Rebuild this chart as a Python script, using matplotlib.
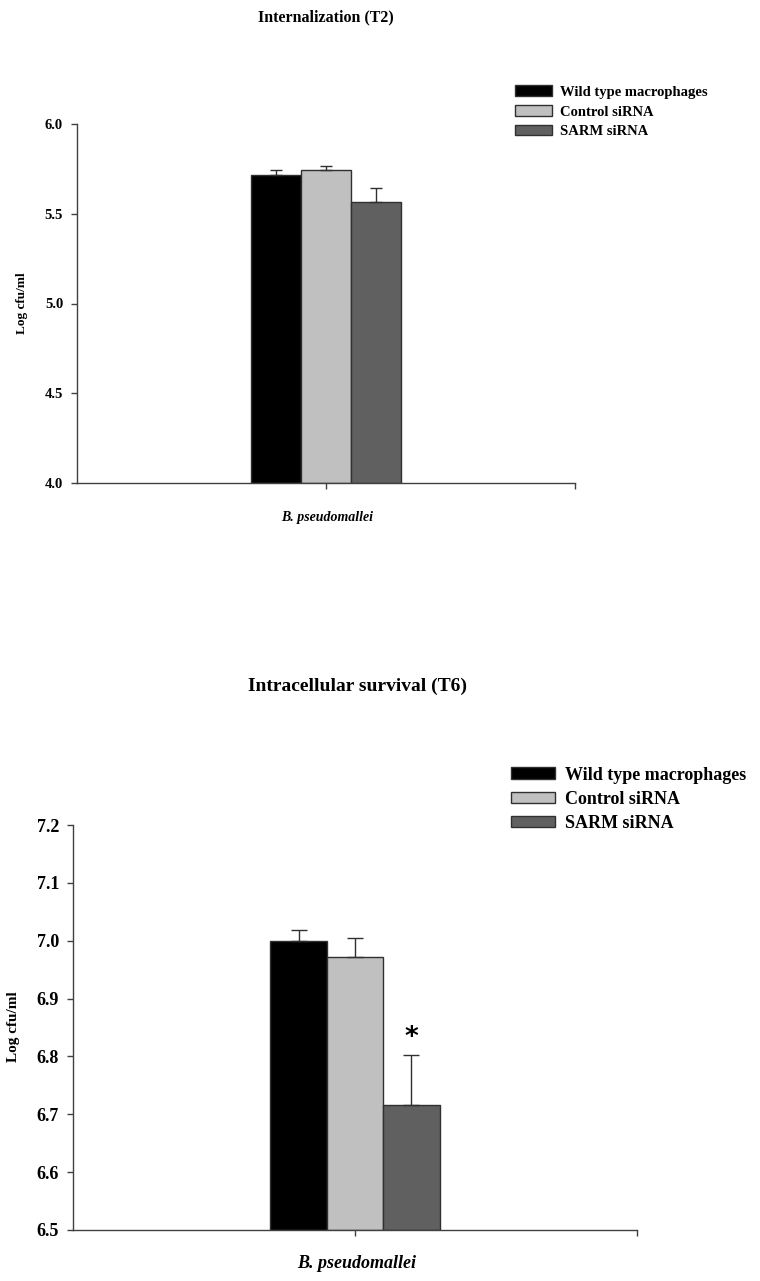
import matplotlib
matplotlib.use("Agg")
import matplotlib.pyplot as plt
from matplotlib.patches import Patch

plt.rcParams['font.family'] = ['Liberation Serif', 'DejaVu Serif']
plt.rcParams['font.weight'] = 'bold'

groups = ["Wild type macrophages", "Control siRNA", "SARM siRNA"]
colors = ["#000000", "#c0c0c0", "#606060"]
category = "B. pseudomallei"

t2_mean = [5.714, 5.744, 5.567]
t2_err = [0.028, 0.023, 0.074]
t2_ticks = [4.0, 4.5, 5.0, 5.5, 6.0]

t6_mean = [7.000, 6.971, 6.716]
t6_err = [0.018, 0.034, 0.086]
t6_ticks = [6.5, 6.6, 6.7, 6.8, 6.9, 7.0, 7.1, 7.2]
t6_sig = ["", "", "*"]

W, H = 760, 1281
fig = plt.figure(figsize=(W / 100, H / 100), dpi=100)


def fx(px):
    return px / W


def fy(py):
    return 1 - py / H


def panel(rect, means, errs, ticks, tick_fs, capsize, sig=None, sig_fs=19):
    l, t, r, b = rect
    ax = fig.add_axes([fx(l), fy(b), fx(r) - fx(l), fy(t) - fy(b)])
    bw = 0.2
    offs = [-bw, 0, bw]
    for i, (m, e) in enumerate(zip(means, errs)):
        ax.bar(offs[i], m - ticks[0], bottom=ticks[0], width=bw, color=colors[i],
               edgecolor="#303030", linewidth=1.0, zorder=2)
        ax.errorbar(offs[i], m, yerr=[[0], [e]], fmt="none", ecolor="#303030",
                    elinewidth=1.0, capsize=capsize, capthick=1.0, zorder=3)
        if sig and sig[i]:
            ax.annotate(sig[i], xy=(offs[i], m + e), xytext=(0, 3), textcoords="offset points",
                        ha="center", va="bottom", fontsize=sig_fs, fontweight="bold",
                        family=["DejaVu Sans"])
    ax.set_xlim(-1, 1)
    ax.set_ylim(ticks[0], ticks[-1])
    ax.set_yticks(ticks)
    ax.set_yticklabels([f"{v:.1f}" for v in ticks], fontsize=tick_fs, fontweight="bold")
    ax.set_xticks([0, 1])
    ax.set_xticklabels(["", ""])
    for s in ["top", "right"]:
        ax.spines[s].set_visible(False)
    for s in ["left", "bottom"]:
        ax.spines[s].set_color("#404040")
        ax.spines[s].set_linewidth(1.0)
    ax.tick_params(axis="both", direction="out", length=4, width=1.0, color="#404040", pad=6)
    return ax


# Top panel: Internalization (T2)
ax1 = panel((77, 124, 575, 483), t2_mean, t2_err, t2_ticks, 10.5, 4)
fig.text(fx(326), fy(17), "Internalization (T2)", ha="center", va="center",
         fontsize=11.5, fontweight="bold")
fig.text(fx(22), fy(303), "Log cfu/ml", ha="center", va="center", rotation=90,
         fontsize=9.5, fontweight="bold")
fig.text(fx(327), fy(517), category, ha="center", va="center", fontsize=10,
         fontweight="bold", style="italic")
h1 = [Patch(facecolor=c, edgecolor="#303030", linewidth=1.0) for c in colors]
fig.legend(h1, groups, loc="upper left", bbox_to_anchor=(fx(512), fy(82.5)),
           frameon=False, fontsize=10.5, handlelength=2.53, handleheight=0.7,
           handletextpad=0.55, labelspacing=0.46, borderpad=0.2, borderaxespad=0)

# Bottom panel: Intracellular survival (T6)
ax2 = panel((73, 825, 637, 1230), t6_mean, t6_err, t6_ticks, 13, 6, sig=t6_sig)
fig.text(fx(358), fy(686), "Intracellular survival (T6)", ha="center", va="center",
         fontsize=14, fontweight="bold")
fig.text(fx(14), fy(1027), "Log cfu/ml", ha="center", va="center", rotation=90,
         fontsize=11, fontweight="bold")
fig.text(fx(357), fy(1263), category, ha="center", va="center", fontsize=13,
         fontweight="bold", style="italic")
h2 = [Patch(facecolor=c, edgecolor="#303030", linewidth=1.0) for c in colors]
fig.legend(h2, groups, loc="upper left", bbox_to_anchor=(fx(507), fy(763)),
           frameon=False, fontsize=13, handlelength=2.44, handleheight=0.61,
           handletextpad=0.55, labelspacing=0.40, borderpad=0.2, borderaxespad=0)

fig.savefig("out.png", dpi=100)
